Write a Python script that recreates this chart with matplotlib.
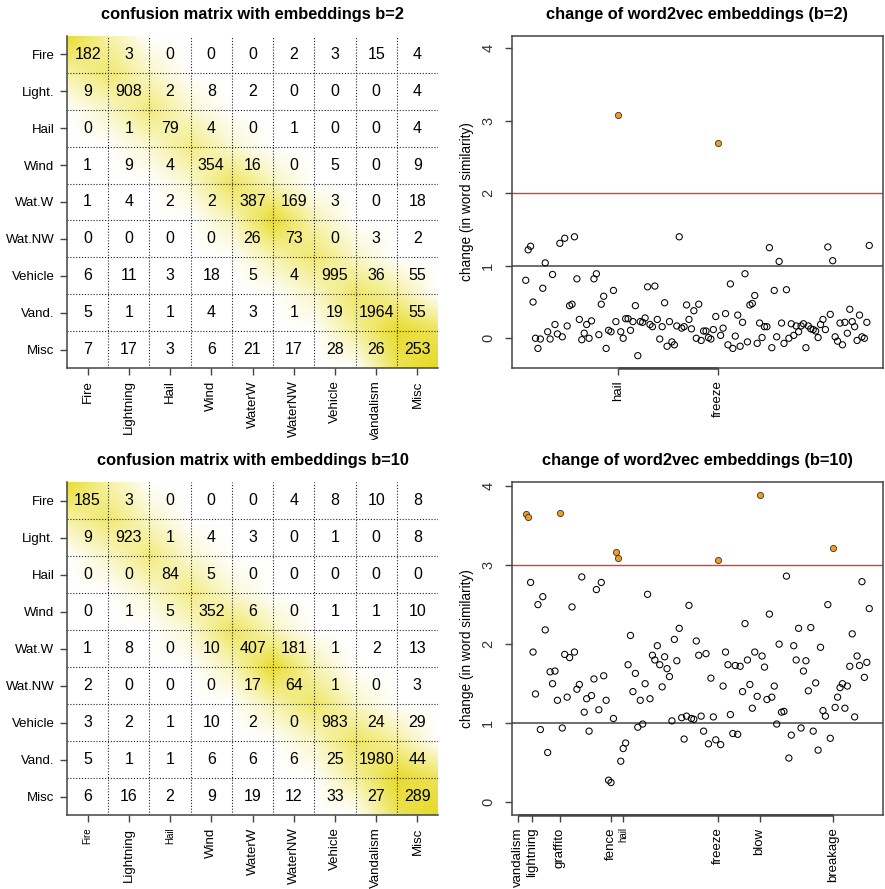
import numpy as np
import matplotlib
matplotlib.use("Agg")
import matplotlib.pyplot as plt
from matplotlib.colors import LinearSegmentedColormap
from matplotlib.transforms import Bbox, TransformedBbox

plt.rcParams['font.family'] = ['Liberation Sans', 'DejaVu Sans']

# ---------------- data ----------------
row_labels = ["Fire", "Light.", "Hail", "Wind", "Wat.W", "Wat.NW", "Vehicle", "Vand.", "Misc"]
col_labels = ["Fire", "Lightning", "Hail", "Wind", "WaterW", "WaterNW", "Vehicle", "Vandalism", "Misc"]

conf_b2 = [
    [182, 3, 0, 0, 0, 2, 3, 15, 4],
    [9, 908, 2, 8, 2, 0, 0, 0, 4],
    [0, 1, 79, 4, 0, 1, 0, 0, 4],
    [1, 9, 4, 354, 16, 0, 5, 0, 9],
    [1, 4, 2, 2, 387, 169, 3, 0, 18],
    [0, 0, 0, 0, 26, 73, 0, 3, 2],
    [6, 11, 3, 18, 5, 4, 995, 36, 55],
    [5, 1, 1, 4, 3, 1, 19, 1964, 55],
    [7, 17, 3, 6, 21, 17, 28, 26, 253],
]
conf_b10 = [
    [185, 3, 0, 0, 0, 4, 8, 10, 8],
    [9, 923, 1, 4, 3, 0, 1, 0, 8],
    [0, 0, 84, 5, 0, 0, 0, 0, 0],
    [0, 1, 5, 352, 6, 0, 1, 1, 10],
    [1, 8, 0, 10, 407, 181, 1, 2, 13],
    [2, 0, 0, 0, 17, 64, 1, 0, 3],
    [3, 2, 1, 10, 2, 0, 983, 24, 29],
    [5, 1, 1, 6, 6, 6, 25, 1980, 44],
    [6, 16, 2, 9, 19, 12, 33, 27, 289],
]

# background shading intensity at the grid corners (diagonal / next-to-diagonal)
shade_diag_b2 = [0.95, 0.65, 0.6, 0.55, 0.75, 0.95, 0.65, 0.7, 0.95, 1.0]
shade_off_b2 = [0.4, 0.25, 0.2, 0.2, 0.3, 0.35, 0.25, 0.45, 0.75]
shade_diag_b10 = [0.95, 0.65, 0.6, 0.55, 0.75, 0.95, 0.7, 0.7, 0.95, 1.0]
shade_off_b10 = [0.4, 0.25, 0.2, 0.2, 0.3, 0.35, 0.25, 0.45, 0.75]

change_b2 = [
    0.80, 1.22, 1.27, 0.50, 0.00, -0.14, -0.01, 0.69, 1.04, 0.09,
    -0.01, 0.88, 0.19, 0.06, 1.31, 0.02, 1.38, 0.17, 0.45, 0.47,
    1.40, 0.82, 0.26, -0.02, 0.07, 0.19, 0.00, 0.24, 0.82, 0.89,
    0.05, 0.47, 0.58, -0.14, 0.11, 0.09, 0.66, 0.23, 3.08, 0.09,
    0.00, 0.27, 0.27, 0.11, 0.23, 0.45, -0.24, 0.23, 0.22, 0.28,
    0.71, 0.19, 0.16, 0.72, 0.26, -0.01, 0.16, 0.49, -0.11, 0.23,
    -0.05, -0.09, 0.17, 1.40, 0.14, 0.16, 0.46, 0.26, 0.13, 0.38,
    0.00, 0.47, -0.03, 0.10, 0.10, 0.01, -0.01, 0.12, 0.30, 2.69,
    0.04, 0.14, 0.34, -0.09, 0.75, -0.14, 0.03, 0.32, -0.11, 0.22,
    0.89, -0.05, 0.46, 0.48, 0.59, -0.07, 0.21, 0.01, 0.16, 0.16,
    1.25, -0.13, 0.66, 0.02, 1.06, 0.21, -0.07, 0.67, 0.00, 0.20,
    0.04, 0.17, 0.09, 0.17, 0.20, -0.13, 0.17, 0.13, 0.12, 0.10,
    0.01, 0.19, 0.26, 0.12, 1.26, 0.33, 1.07, 0.02, -0.04, 0.21,
    -0.09, 0.22, 0.07, 0.40, 0.23, 0.16, -0.03, 0.32, 0.02, 0.00,
    0.22, 1.28,
]
change_b10 = [
    3.65, 3.61, 2.78, 1.90, 1.37, 2.50, 0.92, 2.60, 2.18, 0.63,
    1.65, 1.50, 1.66, 1.29, 3.66, 0.94, 1.87, 1.33, 1.83, 2.47,
    1.90, 1.43, 1.49, 2.85, 1.14, 1.31, 0.90, 1.35, 1.56, 2.69,
    1.17, 2.78, 1.60, 1.29, 0.28, 0.25, 1.06, 3.16, 3.09, 0.52,
    0.68, 0.75, 1.74, 2.11, 1.40, 1.63, 0.95, 1.29, 0.99, 1.50,
    2.63, 1.31, 1.86, 1.80, 1.98, 1.74, 1.46, 1.84, 1.69, 1.59,
    1.03, 2.06, 1.79, 2.20, 1.07, 0.80, 1.09, 2.49, 1.06, 1.05,
    2.04, 1.86, 1.09, 0.90, 1.88, 0.74, 1.57, 1.08, 0.79, 3.06,
    0.73, 1.47, 1.90, 1.74, 1.11, 0.87, 1.73, 0.86, 1.72, 1.40,
    2.26, 1.80, 1.49, 1.19, 1.90, 1.34, 3.89, 1.85, 1.71, 1.30,
    2.38, 1.33, 1.47, 0.99, 2.00, 1.14, 1.15, 2.86, 0.56, 0.85,
    1.98, 1.80, 2.20, 0.94, 1.66, 1.79, 1.41, 2.21, 0.90, 1.51,
    0.66, 1.96, 1.16, 1.09, 2.50, 0.81, 3.21, 1.20, 1.33, 1.45,
    1.50, 1.19, 1.47, 1.72, 2.13, 1.08, 1.85, 1.73, 2.79, 1.58,
    1.77, 2.45,
]
threshold_b2 = 2
threshold_b10 = 3

words_b2 = ["hail", "freeze"]
word_idx_b2 = [39, 80]
words_b10 = ["vandalism", "lightning", "graffito", "fence", "hail", "freeze", "blow", "breakage"]
word_idx_b10 = [1, 2, 15, 38, 39, 80, 97, 127]
# label placement nudges (layout only) so neighbouring labels don't collide
label_shift_b10 = [-3.3, 1.6, 0, -1.9, 2.1, 0, 0, 0]

# ---------------- figure ----------------
W, H = 885, 889
fig = plt.figure(figsize=(W / 100, H / 100), dpi=100)

def pos(x0, y0, x1, y1):
    return [x0 / W, 1 - y1 / H, (x1 - x0) / W, (y1 - y0) / H]

yellow = LinearSegmentedColormap.from_list("wy", ["#FFFFFF", "#F4EE90", "#E6D920"])
spine_col = "#444444"
title_kw = dict(fontsize=11.8, fontweight="bold", pad=12)


def heatmap(ax, mat, diag, off, title, small_cols=()):
    mat = np.array(mat)
    n = mat.shape[0]
    C = np.zeros((n + 1, n + 1))
    for k, v in enumerate(diag):
        C[k, k] = v
    for k, v in enumerate(off):
        C[k, k + 1] = v
        C[k + 1, k] = v
    ax.imshow(C, cmap=yellow, vmin=0, vmax=1, interpolation="bilinear",
              extent=(-0.5, n + 0.5, n + 0.5, -0.5), aspect="auto", zorder=0)
    for i in range(n):
        for j in range(n):
            ax.text(j + 0.5, i + 0.5, str(mat[i, j]), ha="center", va="center",
                    fontsize=11.5, color="black", zorder=3)
    for k in range(1, n):
        ax.axvline(k, color="#222222", lw=0.8, ls=(0, (1, 1.6)), zorder=2)
        ax.axhline(k, color="#222222", lw=0.8, ls=(0, (1, 1.6)), zorder=2)
    ax.set_xlim(0, n)
    ax.set_ylim(n, 0)
    ax.set_xticks(np.arange(n) + 0.5)
    ax.set_xticklabels(col_labels, rotation=90, fontsize=9.5)
    ax.set_yticks(np.arange(n) + 0.5)
    ax.set_yticklabels(row_labels, fontsize=9.5)
    for lab in ax.get_xticklabels():
        if lab.get_text() in small_cols:
            lab.set_fontsize(7)
    ax.tick_params(length=5, width=1, color=spine_col, pad=4)
    for s in ("top", "right"):
        ax.spines[s].set_visible(False)
    for s in ("left", "bottom"):
        ax.spines[s].set_color(spine_col)
        ax.spines[s].set_linewidth(1.1)
    ax.set_title(title, **title_kw)


def scatter(ax, vals, thr, words, idx, shifts, title, ylim, small_words=()):
    vals = np.array(vals)
    x = np.arange(1, len(vals) + 1)
    hi = vals > thr
    ax.axhline(1, color="#555555", lw=1.2, zorder=1)
    ax.axhline(thr, color="#E8392E", lw=1.0, zorder=1)
    ax.scatter(x[~hi], vals[~hi], s=20, facecolors="none", edgecolors="black",
               linewidths=0.75, zorder=2)
    ax.scatter(x[hi], vals[hi], s=20, facecolors="#F39C1F", edgecolors="#333333",
               linewidths=0.6, zorder=3)
    n = len(vals)
    ax.set_xlim(1 - 0.04 * (n - 1), n + 0.04 * (n - 1))
    ax.set_ylim(*ylim)
    tpos = [i + s for i, s in zip(idx, shifts)]
    ax.set_xticks(tpos)
    ax.set_xticklabels(words, rotation=90, fontsize=9.5)
    for lab in ax.get_xticklabels():
        if lab.get_text() in small_words:
            lab.set_fontsize(7)
    ax.set_yticks([0, 1, 2, 3, 4])
    ax.set_yticklabels(["0", "1", "2", "3", "4"], rotation=90, va="center", fontsize=10.5,
                       color="#333333")
    ax.tick_params(length=5, width=1, color=spine_col, pad=4)
    ax.tick_params(axis="y", pad=7)
    ax.plot([min(tpos), max(tpos)], [ylim[0], ylim[0]], color=spine_col, lw=1.8,
            clip_on=False, zorder=5, solid_capstyle="butt")
    for s in ax.spines.values():
        s.set_color(spine_col)
        s.set_linewidth(1.1)
    ax.set_ylabel("change (in word similarity)", fontsize=9.8, labelpad=5)
    ax.set_title(title, **title_kw)


ax1 = fig.add_axes(pos(67, 36, 438, 368))
heatmap(ax1, conf_b2, shade_diag_b2, shade_off_b2, "confusion matrix with embeddings b=2")
clip = TransformedBbox(Bbox([[0, 1 - 440 / H], [0.5, 1]]), fig.transFigure)
for lab in ax1.get_xticklabels():
    lab.set_clip_box(clip)
    lab.set_clip_on(True)

ax2 = fig.add_axes(pos(512, 36, 883, 368))
scatter(ax2, change_b2, threshold_b2, words_b2, word_idx_b2, [0, 0],
        "change of word2vec embeddings (b=2)", (-0.41, 4.17))

ax3 = fig.add_axes(pos(67, 482, 438, 815))
heatmap(ax3, conf_b10, shade_diag_b10, shade_off_b10, "confusion matrix with embeddings b=10",
        small_cols=("Fire", "Hail"))

ax4 = fig.add_axes(pos(512, 482, 883, 815))
scatter(ax4, change_b10, threshold_b10, words_b10, word_idx_b10, label_shift_b10,
        "change of word2vec embeddings (b=10)", (-0.16, 4.05), small_words=("hail",))

fig.savefig("out.png", dpi=100)
